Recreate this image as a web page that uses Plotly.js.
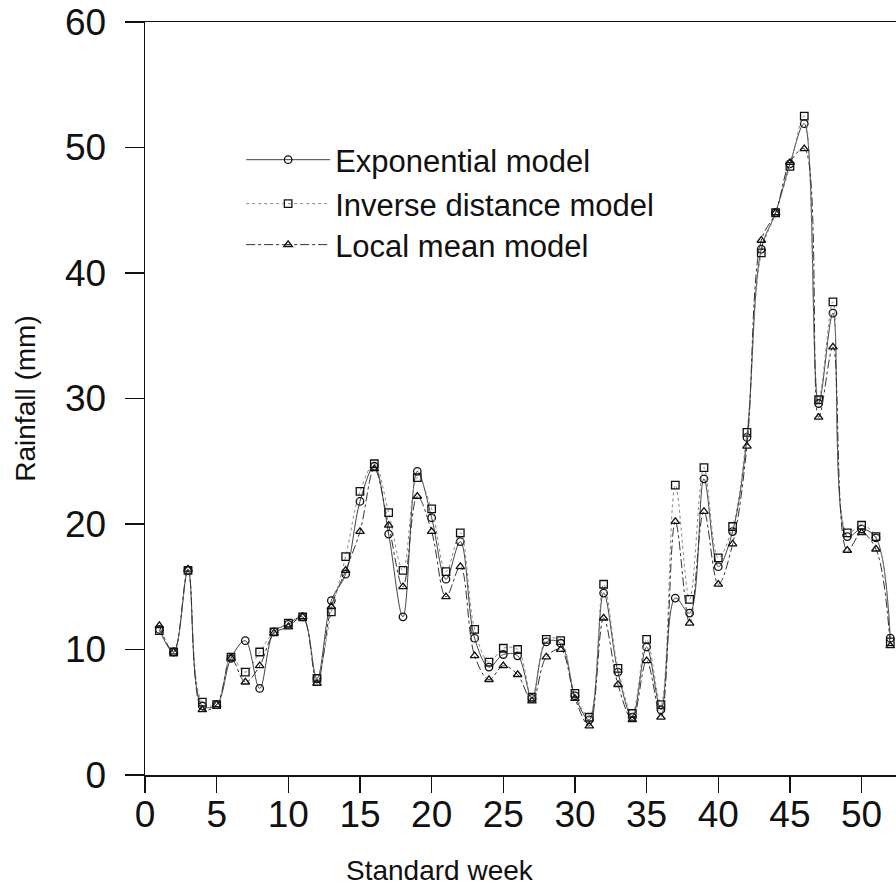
<!DOCTYPE html>
<html>
<head>
<meta charset="utf-8">
<script src="https://cdn.plot.ly/plotly-3.0.1.min.js"></script>
<style>html,body{margin:0;padding:0;background:#fff;}#chart{width:896px;height:896px;}</style>
</head>
<body>
<div id="chart"></div>
<script>
var weeks = [1,2,3,4,5,6,7,8,9,10,11,12,13,14,15,16,17,18,19,20,21,22,23,24,25,26,27,28,29,30,31,32,33,34,35,36,37,38,39,40,41,42,43,44,45,46,47,48,49,50,51,52];
var exponentialModel = [11.6,9.8,16.3,5.5,5.6,9.3,10.7,6.9,11.4,12.0,12.6,7.7,13.9,16.0,21.8,24.6,19.2,12.6,24.2,20.5,15.6,18.6,10.9,8.6,9.6,9.5,6.1,10.6,10.5,6.3,4.4,14.5,8.2,4.6,10.2,5.2,14.1,12.9,23.6,16.6,19.4,26.9,41.9,44.8,48.7,51.9,29.6,36.8,19.0,19.6,18.9,10.9];
var inverseDistanceModel = [11.5,9.8,16.3,5.8,5.6,9.4,8.2,9.8,11.4,12.1,12.6,7.7,13.0,17.4,22.6,24.8,20.9,16.3,23.7,21.2,16.2,19.3,11.6,9.0,10.1,10.0,6.2,10.8,10.7,6.5,4.6,15.2,8.5,4.9,10.8,5.6,23.1,14.0,24.5,17.3,19.8,27.3,41.6,44.8,48.5,52.5,29.9,37.7,19.3,19.9,19.0,10.6];
var localMeanModel = [11.9,9.8,16.4,5.2,5.6,9.3,7.4,8.7,11.3,11.8,12.6,7.3,13.4,16.3,19.4,24.4,19.9,15.0,22.2,19.4,14.2,16.6,9.5,7.6,8.7,8.0,5.9,9.4,10.0,6.1,3.9,12.5,7.2,4.4,9.1,4.6,20.2,12.1,21.0,15.2,18.4,26.2,42.6,44.8,48.8,49.9,28.5,34.1,17.9,19.3,18.0,10.3];
var seriesNames = ["Exponential model","Inverse distance model","Local mean model"];
var xTicks = [0,5,10,15,20,25,30,35,40,45,50];
var yTicks = [0,10,20,30,40,50,60];

var FONT = '"Liberation Sans", Arial, Helvetica, sans-serif';

function mk(y, name, sym, dash, col, leg) {
  return {
    x: weeks, y: y, name: name, type: 'scatter', mode: 'lines+markers',
    line: {shape: 'spline', smoothing: 1, width: 1, color: col, dash: dash},
    marker: {symbol: sym, size: 7.5, color: '#111', line: {width: 1.3, color: '#111'}},
    legend: leg, showlegend: true, cliponaxis: false
  };
}

var data = [
  mk(exponentialModel, seriesNames[0], 'circle-open', 'solid', '#444', 'legend'),
  mk(inverseDistanceModel, seriesNames[1], 'square-open', 'dot', '#888', 'legend2'),
  mk(localMeanModel, seriesNames[2], 'triangle-up-open', 'dashdot', '#333', 'legend3')
];

function leg(yc) {
  return {x: 0.128, xanchor: 'left', y: yc, yanchor: 'middle', bgcolor: 'rgba(0,0,0,0)',
          font: {family: FONT, size: 31, color: '#111'}, itemwidth: 84, borderwidth: 0};
}

var layout = {
  width: 896, height: 896,
  margin: {l: 145, r: 0, t: 22, b: 121, pad: 0},
  paper_bgcolor: '#fff', plot_bgcolor: '#fff',
  font: {family: FONT, color: '#111'},
  xaxis: {
    range: [0, 52.4], tickvals: xTicks, ticktext: xTicks.map(String),
    ticks: 'outside', ticklen: 16, tickwidth: 1.5, tickcolor: '#111',
    showline: true, linecolor: '#111', linewidth: 1.5, mirror: true,
    showgrid: false, zeroline: false,
    tickfont: {family: FONT, size: 37, color: '#111'}, ticklabelstandoff: -10
  },
  yaxis: {
    range: [0, 60], tickvals: yTicks, ticktext: yTicks.map(String),
    ticks: 'outside', ticklen: 19, tickwidth: 1.5, tickcolor: '#111',
    showline: true, linecolor: '#111', linewidth: 1.5,
    showgrid: false, zeroline: false,
    tickfont: {family: FONT, size: 37, color: '#111'}, ticklabelstandoff: 11,
    title: {text: 'Rainfall (mm)', font: {family: FONT, size: 28, color: '#111'}, standoff: 21}
  },
  legend: leg(0.8167),
  legend2: leg(0.7583),
  legend3: leg(0.7039),
  annotations: [{
    text: 'Standard week', xref: 'paper', yref: 'paper', x: 0.393, y: -0.127,
    xanchor: 'center', yanchor: 'middle', showarrow: false,
    font: {family: FONT, size: 28, color: '#111'}
  }]
};

Plotly.newPlot('chart', data, layout, {displayModeBar: false, staticPlot: true});
</script>
</body>
</html>
